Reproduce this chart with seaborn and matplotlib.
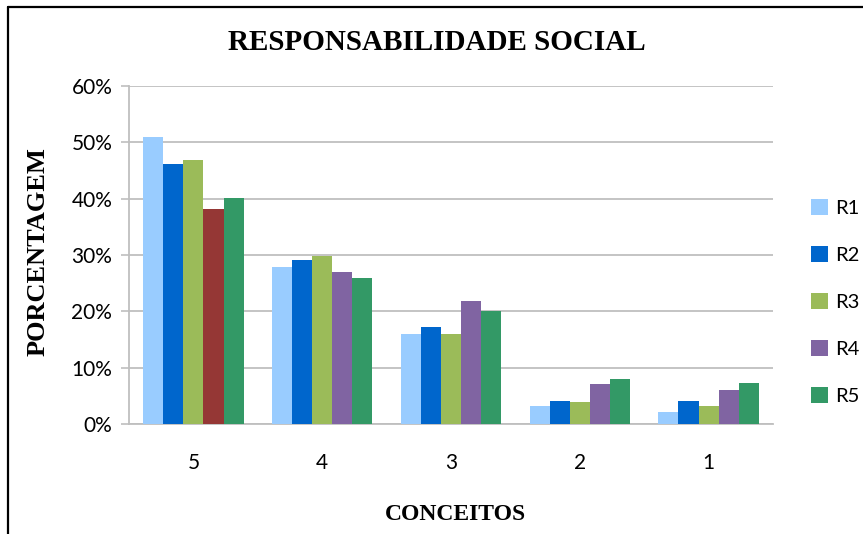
import pandas as pd
import matplotlib
matplotlib.use("Agg")
import matplotlib.pyplot as plt
import seaborn as sns
from matplotlib.patches import Patch
from matplotlib.lines import Line2D

# Data (percent)
conceitos = ["5", "4", "3", "2", "1"]
series = ["R1", "R2", "R3", "R4", "R5"]
r1 = [51.0, 27.9, 16.0, 3.2, 2.1]
r2 = [46.2, 29.1, 17.2, 4.1, 4.1]
r3 = [46.9, 29.8, 16.0, 3.9, 3.2]
r4 = [38.2, 27.0, 21.8, 7.1, 6.0]
r5 = [40.1, 25.9, 20.0, 8.0, 7.3]
y_ticks = [0, 10, 20, 30, 40, 50, 60]
y_labels = ["0%", "10%", "20%", "30%", "40%", "50%", "60%"]

colors = ["#99CCFF", "#0066CC", "#9BBB59", "#8064A2", "#339966"]
odd_color = "#953735"  # R4 bar for conceito 5 is drawn in dark red

rows = []
for name, vals in zip(series, [r1, r2, r3, r4, r5]):
    for c, v in zip(conceitos, vals):
        rows.append({"conceito": c, "serie": name, "valor": v})
df = pd.DataFrame(rows)

sns.set_style("white")
plt.rcParams["font.family"] = ["Lato", "DejaVu Sans"]
plt.rcParams["text.color"] = "black"
plt.rcParams["xtick.color"] = "black"
plt.rcParams["ytick.color"] = "black"

fig = plt.figure(figsize=(8.63, 5.34), dpi=100)
ax = fig.add_axes([129 / 863, 1 - 424 / 534, (773 - 129) / 863, (424 - 86) / 534])

sns.barplot(data=df, x="conceito", y="valor", hue="serie", order=conceitos,
            hue_order=series, palette=colors, width=0.78, saturation=1,
            linewidth=0, edgecolor="none", legend=False, ax=ax, zorder=3)
ax.containers[3][0].set_facecolor(odd_color)

ax.set_ylim(0, 60)
ax.set_yticks(y_ticks)
ax.set_yticklabels(y_labels, fontsize=15)
ax.tick_params(axis="x", labelsize=15, length=0, pad=21)
ax.tick_params(axis="y", length=6, width=1.2, color="#BFBFBF", labelcolor="black",
               left=True, pad=6)
ax.yaxis.grid(True, color="#BFBFBF", linewidth=1.3, zorder=0)
ax.set_axisbelow(True)
for side in ["top", "right"]:
    ax.spines[side].set_visible(False)
for side in ["left", "bottom"]:
    ax.spines[side].set_color("#BFBFBF")
    ax.spines[side].set_linewidth(1.3)
ax.set_xlabel("")
ax.set_ylabel("")

serif = ["Liberation Serif", "DejaVu Serif"]
fig.text(437 / 863, 1 - 43 / 534, "RESPONSABILIDADE SOCIAL", ha="center", va="center",
         fontsize=21, fontweight="bold", family=serif, color="black")
fig.text(455 / 863, 1 - 515 / 534, "CONCEITOS", ha="center", va="center",
         fontsize=17, fontweight="bold", family=serif, color="black")
fig.text(38 / 863, 1 - 252 / 534, "PORCENTAGEM", ha="center", va="center",
         rotation=90, fontsize=19, fontweight="bold", family=serif, color="black")

handles = [Patch(facecolor=c, edgecolor="none") for c in colors]
fig.legend(handles, series, loc="center left", bbox_to_anchor=(801 / 863, 1 - 302 / 534),
           frameon=False, fontsize=14.5, borderpad=0, handlelength=0.85, handleheight=0.85,
           handletextpad=0.35, labelspacing=1.45)

# outer frame (cropped chart border)
fig.add_artist(Line2D([7.5 / 863, 7.5 / 863], [0, 1 - 7 / 534], color="black", lw=1.6))
fig.add_artist(Line2D([7.5 / 863, 1], [1 - 7 / 534, 1 - 7 / 534], color="black", lw=1.6))

fig.savefig("out.png", dpi=100)
